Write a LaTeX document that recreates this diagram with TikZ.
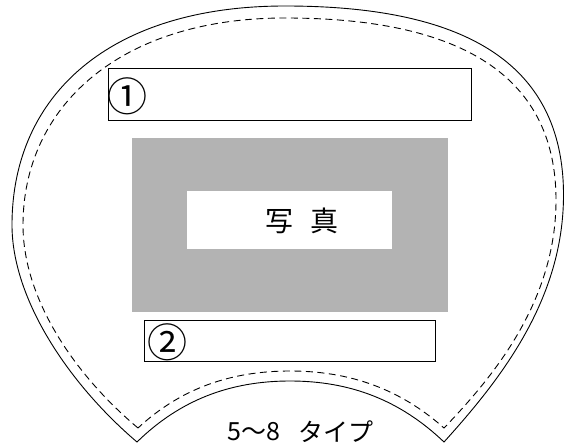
\documentclass[tikz,border=0pt]{standalone}
\usepackage{fontspec}
\setmainfont{Noto Sans CJK JP}
\newfontfamily\jpfont{Noto Sans CJK JP}
\definecolor{photogray}{RGB}{179,179,179}
\tikzset{
  outline/.style={draw=black, line width=0.9pt, line join=miter},
  seam/.style={draw=black, line width=0.9pt, dash pattern=on 7pt off 4.5pt},
  fieldbox/.style={draw=black, line width=0.9pt, fill=white},
  lbl/.style={inner sep=0pt, outer sep=0pt, font=\jpfont}
}
\begin{document}
\begin{tikzpicture}[x=1pt, y=-1pt]
\useasboundingbox (0,0) rectangle (564,446);
\fill[white] (0,0) rectangle (564,446);
% outer fan outline
\draw[outline]
  (137,442) .. controls (70,385) and (12,300) .. (12,225)
  .. controls (12,95) and (110,6) .. (285,6)
  .. controls (460,6) and (563.5,60) .. (563.5,195)
  .. controls (563.5,300) and (500,380) .. (444,442)
  .. controls (400,400) and (350,381) .. (290,381)
  .. controls (230,381) and (180,400) .. (137,442) -- cycle;
% dashed seam
\draw[seam]
  (138,428) .. controls (76,376) and (23,300) .. (23,225)
  .. controls (23,108) and (118,18) .. (285,18)
  .. controls (452,18) and (556,70) .. (556,200)
  .. controls (556,300) and (495,375) .. (444,428)
  .. controls (400,389) and (350,371) .. (290,371)
  .. controls (230,371) and (180,389) .. (138,428);
% field 1
\path[fieldbox] (108,68) rectangle (471,120);
% photo area
\fill[photogray] (132,138) rectangle (448,312);
\fill[white] (187,191) rectangle (392,249);
% field 2
\path[fieldbox] (144,320) rectangle (435,361);
% texts
\node[lbl, font=\jpfont\fontsize{40}{40}\selectfont] (n1) at (127.5,96.5) {①};
\node[lbl, font=\jpfont\fontsize{40}{40}\selectfont] (n2) at (167.5,342.5) {②};
\node[lbl, font=\jpfont\fontsize{28}{28}\selectfont] (photo) at (302,221) {写\hspace{18pt}真};
\node[lbl, font=\jpfont\fontsize{25}{25}\selectfont] (num) at (254,432) {5〜8};
\node[lbl, font=\jpfont\fontsize{25}{25}\selectfont] (type) at (335.5,432) {タイプ};
\end{tikzpicture}
\end{document}
